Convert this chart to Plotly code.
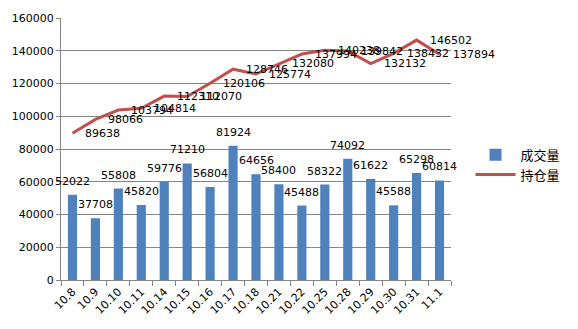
import plotly.graph_objects as go

categories = ["10.8", "10.9", "10.10", "10.11", "10.14", "10.15", "10.16", "10.17", "10.18",
              "10.21", "10.22", "10.25", "10.28", "10.29", "10.30", "10.31", "11.1"]
volume = [52022, 37708, 55808, 45820, 59776, 71210, 56804, 81924, 64656,
          58400, 45488, 58322, 74092, 61622, 45588, 65298, 60814]
open_interest = [89638, 98066, 103794, 104814, 112310, 112070, 120106, 128746, 125774,
                 132080, 137994, 140238, 139842, 132132, 138432, 146502, 137894]
y_ticks = [0, 20000, 40000, 60000, 80000, 100000, 120000, 140000, 160000]

FONT = "DejaVu Sans, Verdana, Noto Sans CJK SC, sans-serif"
GRID = "#868686"

fig = go.Figure()
fig.add_trace(go.Bar(
    x=categories, y=volume, name="成交量",
    marker=dict(color="#4F81BD", line=dict(width=0)),
    width=0.4, hoverinfo="skip",
))
fig.add_trace(go.Scatter(
    x=categories, y=open_interest, name="持仓量", mode="lines",
    line=dict(color="#C0504D", width=3), hoverinfo="skip",
))
for i, v in enumerate(volume):
    fig.add_annotation(x=i, y=v, text=str(v), showarrow=False, xanchor="center",
                       yanchor="bottom", yshift=5,
                       font=dict(family=FONT, size=11, color="#000000"))
for i, v in enumerate(open_interest):
    fig.add_annotation(x=i, y=v, text=str(v), showarrow=False, xanchor="left",
                       yanchor="middle", xshift=11,
                       font=dict(family=FONT, size=11, color="#000000"))

fig.update_layout(
    width=578, height=329,
    margin=dict(l=58, r=100, t=13, b=48),
    paper_bgcolor="white", plot_bgcolor="white",
    font=dict(family=FONT, size=11, color="#000000"),
    showlegend=True,
    legend=dict(x=1.05, y=0.44, xanchor="left", yanchor="middle",
                font=dict(family="Noto Sans CJK SC, sans-serif", size=13, color="#000000"),
                bgcolor="rgba(0,0,0,0)", tracegroupgap=6, itemwidth=40),
    bargap=0.6,
)
fig.update_xaxes(
    type="category", range=[-0.5, len(categories) - 0.5], autorange=False,
    tickangle=-45, showgrid=False,
    showline=True, linecolor=GRID, linewidth=1,
    ticks="outside", tickson="boundaries", ticklen=5, tickcolor=GRID,
    tickfont=dict(family=FONT, size=11, color="#000000"),
)
fig.update_yaxes(
    range=[0, 160000], autorange=False,
    tickvals=y_ticks, ticktext=[str(t) for t in y_ticks],
    showgrid=True, gridcolor=GRID, gridwidth=1,
    showline=True, linecolor=GRID, linewidth=1,
    ticks="outside", ticklen=4, tickcolor=GRID,
    tickfont=dict(family=FONT, size=11, color="#000000"),
    zeroline=False,
)

fig.write_html("out.html")
